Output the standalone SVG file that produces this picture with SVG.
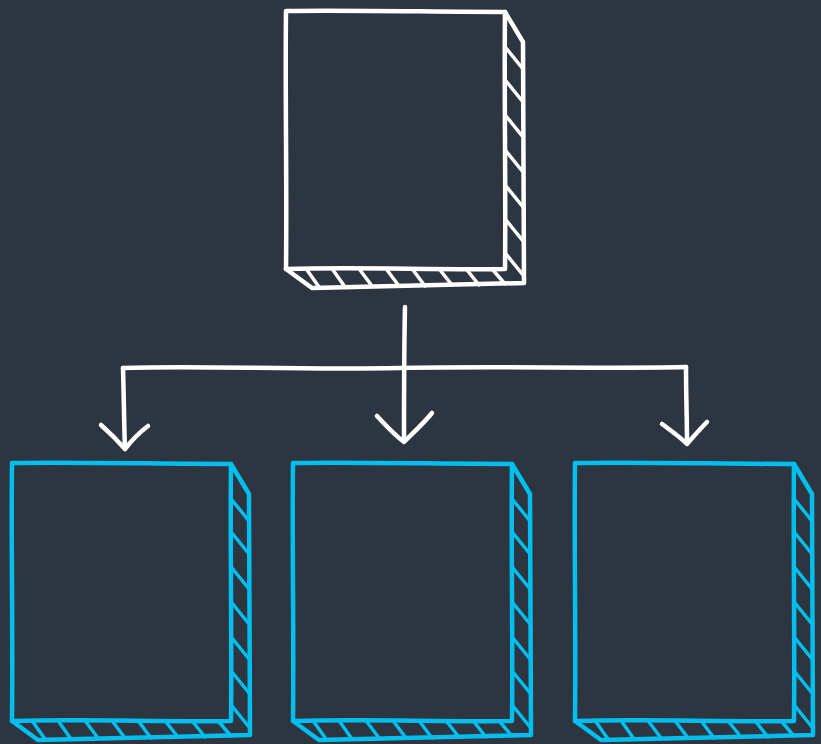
<svg xmlns="http://www.w3.org/2000/svg" width="821" height="744" viewBox="0 0 821 744">
<style>
.ln{fill:none;stroke-linecap:round;stroke-linejoin:round}
.o{stroke-width:4.5}
.h{stroke-width:3.5}
.w{stroke:#ffffff}
.b{stroke:#00bfef}
.c{fill:none;stroke:#ffffff;stroke-width:4.5;stroke-linecap:round;stroke-linejoin:round}
</style>
<defs>
<g id="box">
<path class="ln o" d="M0,0 C70,-1 150,1 219,1 C218,80 220,180 219,258 C150,259 70,256 0,258 C1,170 -1,80 0,0 Z"/>
<path class="ln o" d="M219,1 L237,31 C238,110 237,190 238,272 L26,277 L0,258"/>
<path class="ln h" d="M220,37 L237,58 M220,70 L237,91 M220,105 L237,126 M220,140 L237,161 M220,175 L237,196 M220,209 L237,230 M220,243 L237,264"/>
<path class="ln h" d="M21,259 L33,276 M47,259 L59,276 M74,259 L86,275 M101,259 L113,275 M127,259 L139,275 M154,259 L166,274 M181,259 L193,274 M207,259 L219,273"/>
</g>
</defs>
<rect width="821" height="744" fill="#2d3640"/>
<g id="node-top" class="w"><use href="#box" x="286" y="11"/></g>
<g id="node-left" class="b"><use href="#box" x="12" y="463"/></g>
<g id="node-middle" class="b"><use href="#box" x="293" y="463"/></g>
<g id="node-right" class="b"><use href="#box" x="575" y="463"/></g>
<g id="connectors">
<path class="c" d="M405,307 C404,350 404,400 404,441"/>
<path class="c" d="M377,416 C388,428 396,436 404,442 C414,432 423,424 432,413"/>
<path class="c" d="M123,368 C200,365 280,370 400,368 C500,366 600,369 686,367"/>
<path class="c" d="M123,368 C124,400 124,425 125,449"/>
<path class="c" d="M101,425 C110,433 118,441 125,449 C132,440 140,432 148,426"/>
<path class="c" d="M686,367 C686,395 687,420 687,443"/>
<path class="c" d="M662,424 C670,430 680,437 687,444 C694,436 700,429 707,422"/>
</g>
</svg>
